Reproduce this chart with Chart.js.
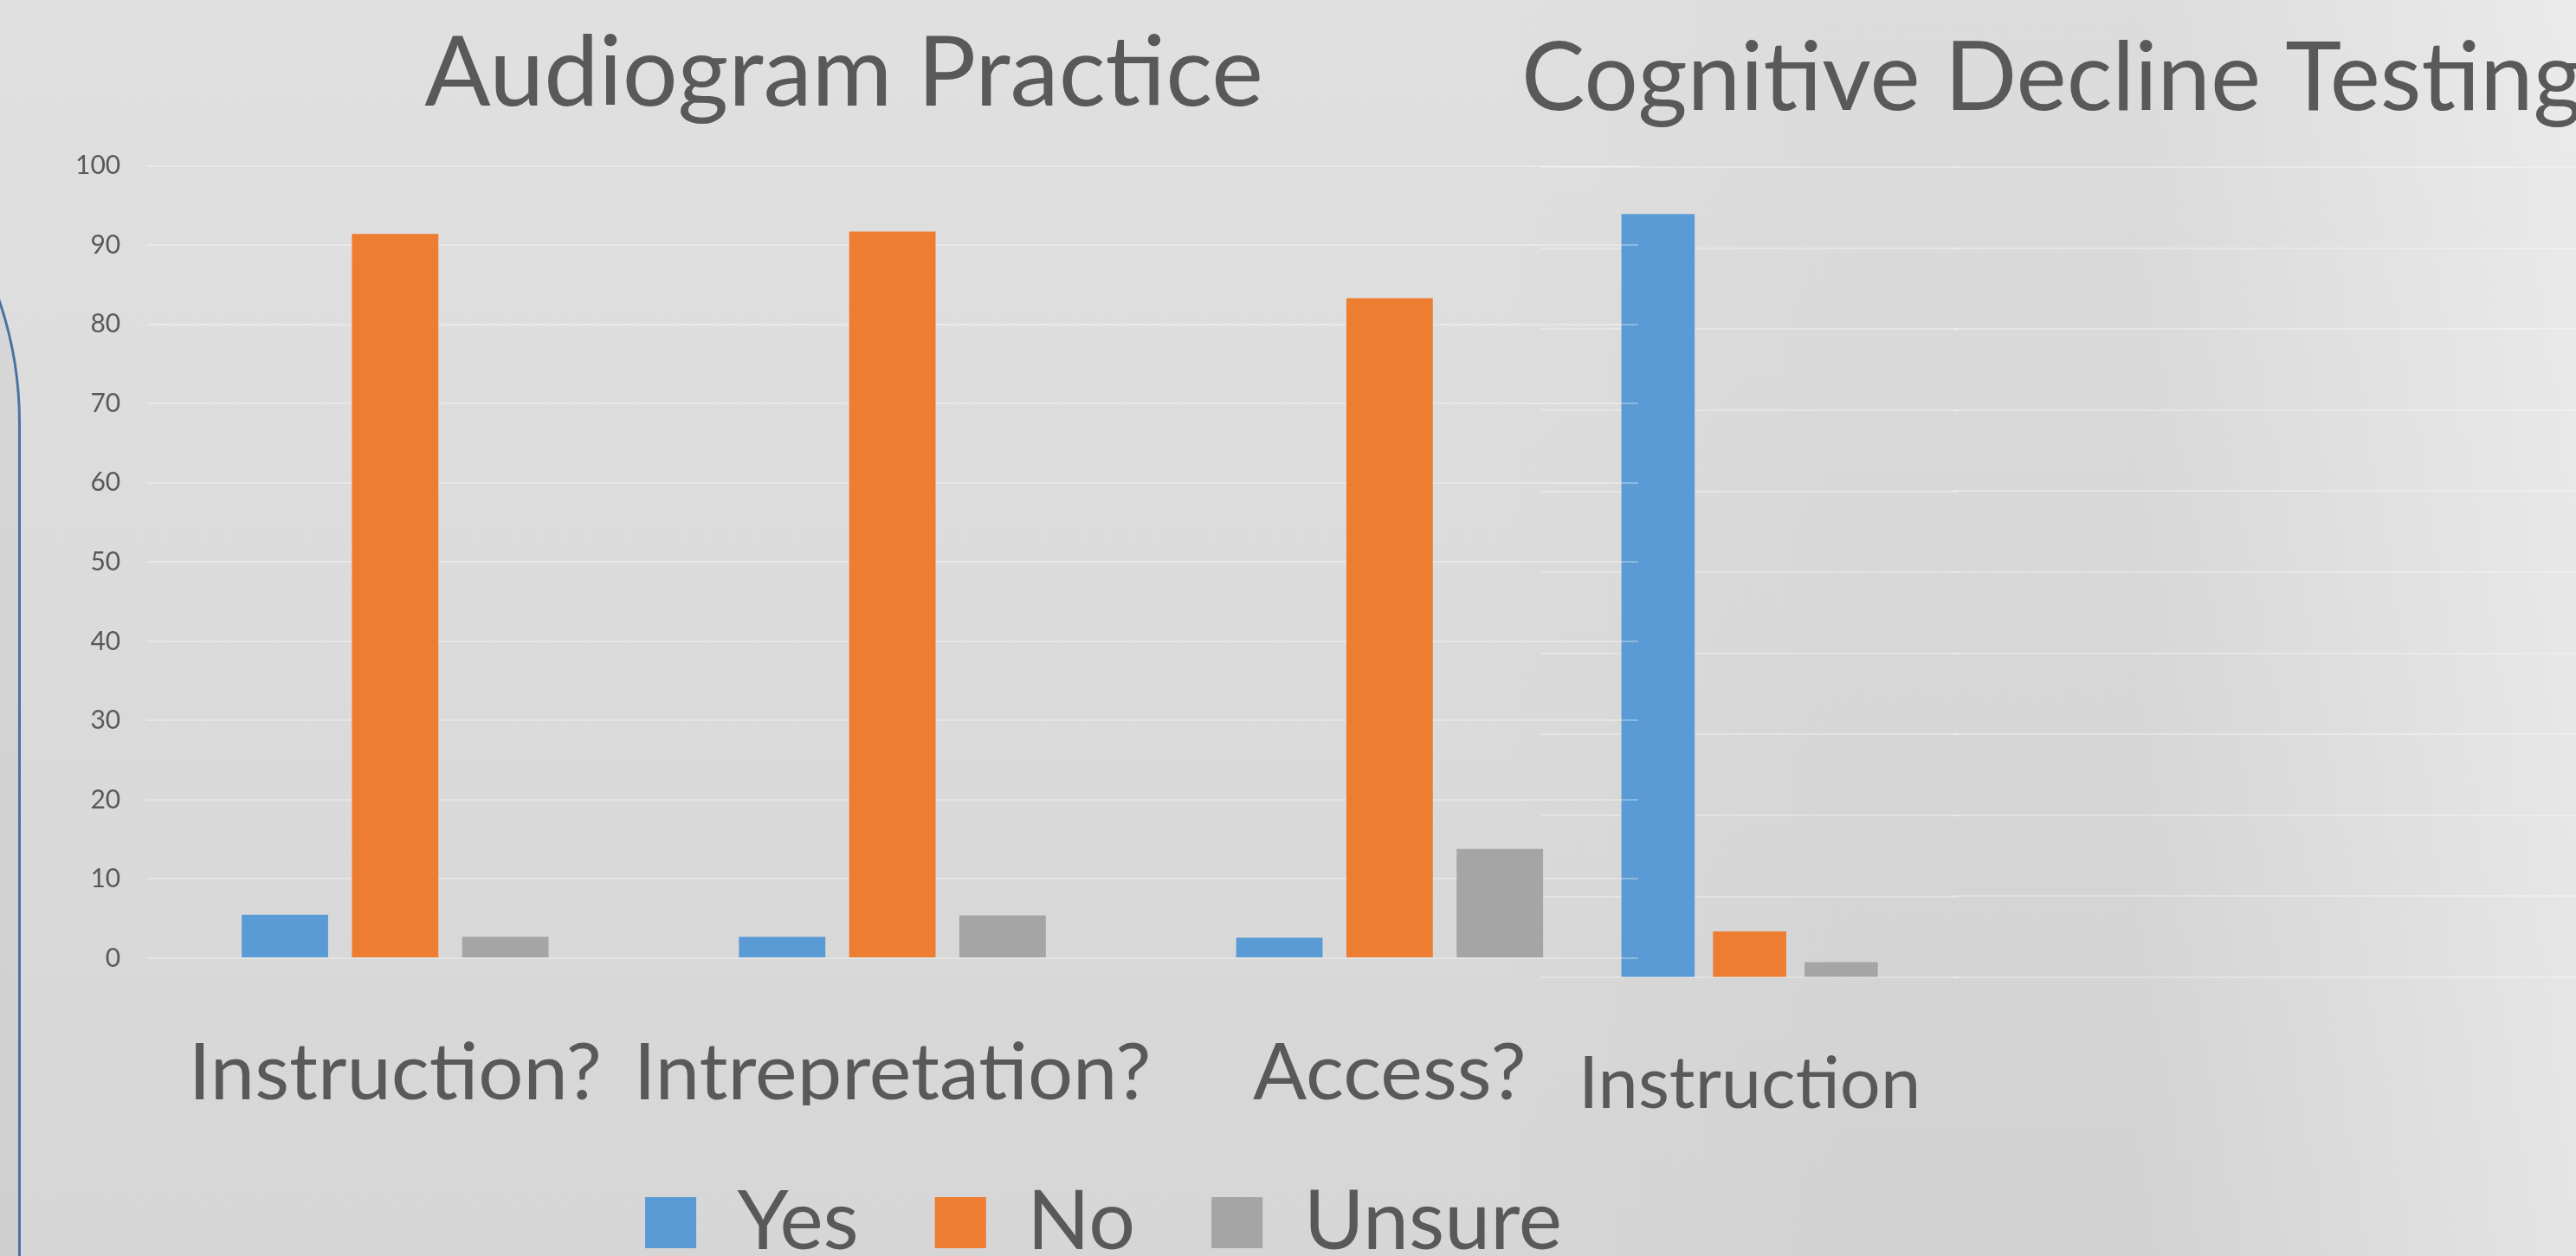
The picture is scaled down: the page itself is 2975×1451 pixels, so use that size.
<!DOCTYPE html>
<html lang="en">
    <head>
        <meta charset="UTF-8" />
        <title>Audiogram Practice / Cognitive Decline Testing</title>
        <style>
            body, html {
                margin: 0;
                padding: 0;
                overflow: hidden;
                width: 2975px;
                height: 1451px;
            }

            body {
                position: relative;
                background: linear-gradient(to bottom, #e0e0e0, #d6d6d6);
            }

            /* lighter slide panel on the right */
            #right-shade {
                position: absolute;
                left: 1700px;
                top: 0;
                width: 1275px;
                height: 1451px;
                background: linear-gradient(to right,
                    rgba(0, 0, 0, 0) 0px,
                    rgba(0, 0, 0, 0.02) 450px,
                    rgba(0, 0, 0, 0.02) 760px,
                    rgba(255, 255, 255, 0.35) 1275px);
            }

            /* rounded outline peeking in on the left edge */
            #left-shape {
                position: absolute;
                left: -903px;
                top: 50px;
                width: 921px;
                height: 2000px;
                border: 3px solid #4a74a0;
                border-radius: 438px;
                background: rgba(0, 0, 0, 0.03);
            }

            .chart-box {
                position: absolute;
                top: 0;
            }

            #audiogram-box { left: 0; width: 2000px; height: 1470px; }
            #cognitive-box { left: 1757px; width: 1300px; height: 1369px; }
            #panel-box { left: 2255px; width: 720px; height: 1369px; }
        </style>
    </head>
    <body>
        <div id="right-shade"></div>
        <div id="left-shape"></div>
        <div class="chart-box" id="panel-box"><canvas id="panel-chart"></canvas></div>
        <div class="chart-box" id="cognitive-box"><canvas id="cognitive-chart"></canvas></div>
        <div class="chart-box" id="audiogram-box"><canvas id="audiogram-chart"></canvas></div>
    </body>
    <script src="https://cdn.jsdelivr.net/npm/chart.js@4.4.0/dist/chart.umd.min.js"></script>
    <script>
        // values (percent of respondents)
        const seriesNames = ["Yes", "No", "Unsure"];
        const seriesColors = ["#5b9bd5", "#ed7d31", "#a5a5a5"];

        const audiogramCategories = ["Instruction?", "Intrepretation?", "Access?"];
        const audiogramYes = [5.5, 2.7, 2.6];
        const audiogramNo = [91.4, 91.7, 83.3];
        const audiogramUnsure = [2.7, 5.4, 13.8];

        const cognitiveCategories = ["Instruction"];
        const cognitiveYes = [94.2];
        const cognitiveNo = [5.7];
        const cognitiveUnsure = [1.9];

        const yMin = 0;
        const yMax = 100;
        const yStep = 10;

        const textColor = "#595959";
        const gridColor = "rgba(255, 255, 255, 0.3)";
        const fontFamily = "Lato, 'Open Sans', sans-serif";

        Chart.defaults.font.family = fontFamily;
        Chart.defaults.color = textColor;

        function makeDatasets(values, barPct, catPct) {
            return values.map((data, i) => ({
                label: seriesNames[i],
                data: data,
                backgroundColor: seriesColors[i],
                borderWidth: 0,
                barPercentage: barPct,
                categoryPercentage: catPct,
            }));
        }

        // left chart
        new Chart(document.getElementById("audiogram-chart"), {
            type: "bar",
            data: {
                labels: audiogramCategories,
                datasets: makeDatasets([audiogramYes, audiogramNo, audiogramUnsure], 0.784, 0.665),
            },
            options: {
                responsive: true,
                maintainAspectRatio: false,
                animation: false,
                layout: { padding: { left: 57, right: 108, top: 0, bottom: 0 } },
                scales: {
                    x: {
                        grid: { display: false, tickLength: 96 },
                        border: { display: false },
                        ticks: {
                            color: textColor,
                            font: { size: 92, lineHeight: 0.804 },
                            padding: 0,
                            maxRotation: 0,
                            autoSkip: false,
                        },
                    },
                    y: {
                        min: yMin,
                        max: yMax,
                        grid: { color: gridColor, lineWidth: 2, drawTicks: false },
                        border: { display: false },
                        ticks: { stepSize: yStep, color: textColor, font: { size: 30 }, padding: 30 },
                    },
                },
                plugins: {
                    title: {
                        display: true,
                        text: "Audiogram Practice",
                        color: textColor,
                        font: { size: 113, weight: "normal" },
                        padding: { top: 18, bottom: 38 },
                    },
                    legend: {
                        position: "bottom",
                        align: "end",
                        labels: {
                            boxWidth: 59,
                            boxHeight: 59,
                            color: textColor,
                            font: { size: 95 },
                            padding: 88,
                        },
                    },
                    tooltip: { enabled: false },
                },
            },
        });

        // right chart, only its first group is on the slide
        new Chart(document.getElementById("cognitive-chart"), {
            type: "bar",
            data: {
                labels: cognitiveCategories,
                datasets: makeDatasets([cognitiveYes, cognitiveNo, cognitiveUnsure], 0.8, 0.66),
            },
            options: {
                responsive: true,
                maintainAspectRatio: false,
                animation: false,
                scales: {
                    x: {
                        grid: { display: false },
                        border: { display: false },
                        ticks: { color: textColor, font: { size: 83 }, padding: 66, maxRotation: 0 },
                    },
                    y: {
                        min: yMin,
                        max: yMax,
                        grid: { color: gridColor, lineWidth: 2, drawTicks: false },
                        border: { display: false },
                        ticks: { display: false, stepSize: yStep },
                    },
                    // empty axis that keeps the rest of the slide clear
                    y2: {
                        position: "right",
                        grid: { display: false },
                        border: { display: false },
                        ticks: { display: false },
                        afterFit: (scale) => {
                            scale.width = 796;
                        },
                    },
                },
                plugins: {
                    title: {
                        display: true,
                        align: "start",
                        text: "Cognitive Decline Testing",
                        color: textColor,
                        font: { size: 110, weight: "normal" },
                        padding: { top: 26, bottom: 35 },
                    },
                    legend: { display: false },
                    tooltip: { enabled: false },
                },
            },
        });

        // rest of the right chart's grid behind the lighter panel
        new Chart(document.getElementById("panel-chart"), {
            type: "bar",
            data: { labels: [], datasets: [] },
            options: {
                responsive: true,
                maintainAspectRatio: false,
                animation: false,
                layout: { padding: { top: 193, bottom: 240 } },
                scales: {
                    x: { display: false },
                    y: {
                        min: yMin,
                        max: yMax,
                        grid: { color: gridColor, lineWidth: 2, drawTicks: false },
                        border: { display: false },
                        ticks: { display: false, stepSize: yStep },
                    },
                },
                plugins: {
                    legend: { display: false },
                    tooltip: { enabled: false },
                },
            },
        });
    </script>
</html>
